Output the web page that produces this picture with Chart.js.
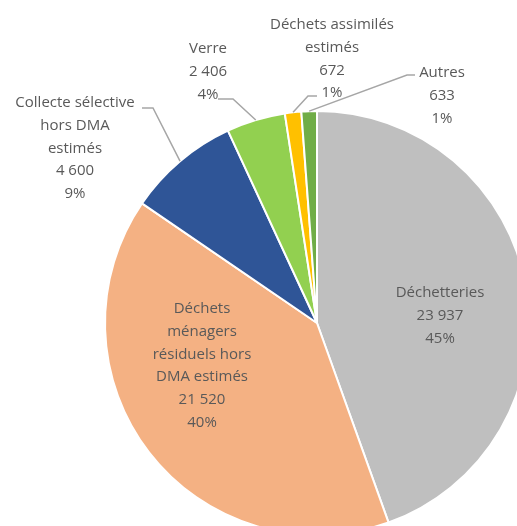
<!DOCTYPE html>
<html>
<head>
<meta charset="utf-8">
<script src="https://cdn.jsdelivr.net/npm/chart.js@4"></script>
<style>
  html, body { margin: 0; padding: 0; background: #fff; overflow: hidden; }
  #wrap { width: 517px; height: 526px; overflow: hidden; position: relative; }
  canvas { position: absolute; left: 0; top: 0; }
</style>
</head>
<body>
<div id="wrap"><canvas id="pie" width="540" height="540"></canvas></div>
<script>
// categories (split on the lines shown in the picture)
const categories = [
  ['Déchetteries'],
  ['Déchets', 'ménagers', 'résiduels hors', 'DMA estimés'],
  ['Collecte sélective', 'hors DMA', 'estimés'],
  ['Verre'],
  ['Déchets assimilés', 'estimés'],
  ['Autres']
];
const values = [23937, 21520, 4600, 2406, 672, 633];
const colors = ['#BFBFBF', '#F4B183', '#2F5597', '#92D050', '#FFC000', '#70AD47'];

// label placement, relative to the pie centre
// text: centre x, first line y ; leader: [text end, knee] (null = no leader)
const labelPos = [
  { x: 123, y: -30, leader: null },
  { x: -115, y: -14, leader: null },
  { x: -242, y: -220, leader: [[-175, -215], [-164, -215]] },
  { x: -109, y: -274, leader: [[-99, -224], [-84, -224]] },
  { x: 15, y: -298, leader: [[0, -227], [-9, -227]] },
  { x: 125, y: -250, leader: [[98, -248], [90, -248]] }
];

const total = values.reduce((a, b) => a + b, 0);
const fmt = n => String(n).replace(/\B(?=(\d{3})+(?!\d))/g, ' ');

const labelPlugin = {
  id: 'pieLabels',
  afterDatasetsDraw(chart) {
    const ctx = chart.ctx;
    const arcs = chart.getDatasetMeta(0).data;
    ctx.save();
    ctx.font = '15px "Open Sans"';
    ctx.fillStyle = '#595959';
    ctx.textAlign = 'center';
    ctx.textBaseline = 'middle';
    arcs.forEach((arc, i) => {
      const p = arc.getProps(['x', 'y', 'startAngle', 'endAngle', 'outerRadius'], true);
      const pos = labelPos[i];
      const lines = categories[i].concat([fmt(values[i]), Math.round(values[i] / total * 100) + '%']);
      lines.forEach((t, k) => {
        ctx.fillText(t, p.x + pos.x, p.y + pos.y + k * 22.7);
      });
      if (pos.leader) {
        const mid = (p.startAngle + p.endAngle) / 2;
        ctx.beginPath();
        ctx.strokeStyle = '#A6A6A6';
        ctx.lineWidth = 1.5;
        ctx.moveTo(p.x + pos.leader[0][0], p.y + pos.leader[0][1]);
        ctx.lineTo(p.x + pos.leader[1][0], p.y + pos.leader[1][1]);
        ctx.lineTo(p.x + Math.cos(mid) * p.outerRadius, p.y + Math.sin(mid) * p.outerRadius);
        ctx.stroke();
      }
    });
    ctx.restore();
  }
};

new Chart(document.getElementById('pie').getContext('2d'), {
  type: 'pie',
  data: {
    labels: categories.map(c => c.join(' ')),
    datasets: [{
      data: values,
      backgroundColor: colors,
      borderColor: '#ffffff',
      borderWidth: 2
    }]
  },
  options: {
    responsive: false,
    animation: false,
    devicePixelRatio: 1,
    layout: { padding: { left: 104, top: 110, right: 10, bottom: 4 } },
    plugins: { legend: { display: false }, tooltip: { enabled: false } }
  },
  plugins: [labelPlugin]
});
</script>
</body>
</html>
